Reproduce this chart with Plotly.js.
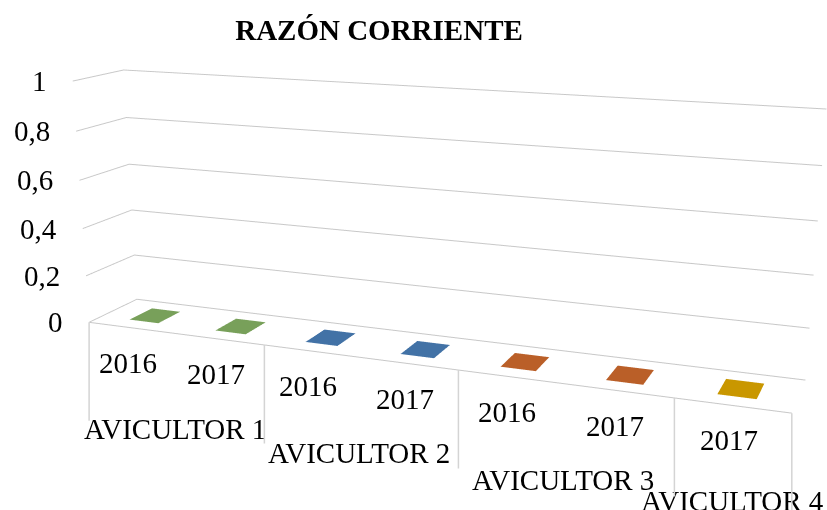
<!DOCTYPE html>
<html><head><meta charset="utf-8">
<script src="https://cdn.plot.ly/plotly-3.0.1.min.js"></script>
<style>
html,body{margin:0;padding:0;background:#fff;overflow:hidden}
#wrap{position:relative;width:827px;height:510px;overflow:hidden;background:#fff}
#chart{position:absolute;left:-317px;top:-306px;width:1485px;height:1188px}
</style></head><body><div id="wrap"><div id="chart"></div></div>
<script>
// ---- data ----
const chartTitle = 'RAZÓN CORRIENTE';
const groups = ['AVICULTOR 1','AVICULTOR 2','AVICULTOR 3','AVICULTOR 4'];
const years = ['2016','2017','2016','2017','2016','2017','2017'];
const groupOf = [0,0,1,1,2,2,3];
const values = [0,0,0,0,0,0,0];
const zTicks = [0,0.2,0.4,0.6,0.8,1];
const zTickText = ['0','0,2','0,4','0,6','0,8','1'];
// ---- style ----
const colors = ['#78A05A','#4272A6','#BA5F28','#C99700'];
const grid = '#c8c8c8';
const sepColor = '#d4d4d4';
const FONT = 'Liberation Serif, Times New Roman, serif';
const HW = 0.17, Y0 = 0.26, Y1 = 0.74;
const ZASP = 0.35;

const traces = [];
groups.forEach((g, gi) => {
  const xs=[], ys=[], zs=[], I=[], J=[], K=[];
  years.forEach((yr, ci) => {
    if (groupOf[ci] !== gi) return;
    const b = xs.length, v = values[ci];
    const corners = [[ci-HW,Y0],[ci+HW,Y0],[ci+HW,Y1],[ci-HW,Y1]];
    [0, v].forEach(z => corners.forEach(c => { xs.push(c[0]); ys.push(c[1]); zs.push(z); }));
    const f = [[0,1,2],[0,2,3],[4,5,6],[4,6,7],[0,1,5],[0,5,4],[1,2,6],[1,6,5],[2,3,7],[2,7,6],[3,0,4],[3,4,7]];
    f.forEach(t => { I.push(b+t[0]); J.push(b+t[1]); K.push(b+t[2]); });
  });
  traces.push({type:'mesh3d', name:g, x:xs, y:ys, z:zs, i:I, j:J, k:K, color:colors[gi],
    flatshading:true, lighting:{ambient:1, diffuse:0, specular:0, roughness:1, fresnel:0},
    hoverinfo:'skip', showscale:false});
});
const xMin = -0.5, xMax = years.length - 0.5;

// separators between groups
const seps = [xMin];
for (let i = 1; i < years.length; i++) if (groupOf[i] !== groupOf[i-1]) seps.push(i - 0.5);
seps.push(xMax);

const ann = [];
zTicks.forEach((v, i) => ann.push({x:xMin, y:0, z:v, text:zTickText[i], showarrow:false,
  xanchor:'right', yanchor:'middle', xshift:-24, font:{family:FONT, size:29, color:'#000'}}));
years.forEach((yr, ci) => ann.push({x:ci, y:0, z:0, text:yr, showarrow:false,
  xanchor:'center', yanchor:'middle', xshift:-3, yshift:-35, font:{family:FONT, size:29, color:'#000'}}));
groups.forEach((g, gi) => {
  const idx = groupOf.map((v,i)=>v===gi?i:-1).filter(i=>i>=0);
  const cx = (idx[0] + idx[idx.length-1]) / 2;
  ann.push({x:cx, y:0, z:0, text:g, showarrow:false, xanchor:'center', yanchor:'middle',
    yshift:-96, font:{family:FONT, size:29, color:'#000'}});
});
seps.forEach(s => ann.push({x:s, y:0, z:0, text:'', showarrow:true, arrowhead:0, ax:0, ay:100,
  arrowcolor:sepColor, arrowwidth:1.5, standoff:0, startstandoff:0}));

const hidden = {showgrid:false, zeroline:false, showline:false, showticklabels:false, ticks:'',
  showbackground:false, showspikes:false, title:{text:''}};

const cz = -0.25 * ZASP;
const layout = {
  width:1485, height:1188, margin:{l:0,r:0,t:0,b:0},
  paper_bgcolor:'#fff', showlegend:false, hovermode:false,
  title:{text:'<b>'+chartTitle+'</b>', font:{family:FONT, size:29, color:'#000'},
    x:0.4687, xanchor:'center', y:0.7172, yanchor:'middle', xref:'paper', yref:'paper'},
  scene:{
    domain:{x:[0,1], y:[0,1]},
    aspectmode:'manual', aspectratio:{x:1, y:0.127, z:ZASP},
    camera:{eye:{x:0.683, y:-1.734, z:0.535 + cz}, center:{x:0,y:0,z:cz}, up:{x:0,y:0,z:1},
      projection:{type:'perspective'}},
    xaxis:Object.assign({range:[xMin, xMax]}, hidden, {showline:true, linecolor:grid, linewidth:2}),
    yaxis:Object.assign({range:[0, 1]}, hidden),
    zaxis:Object.assign({}, hidden, {range:[0, 1], tickvals:zTicks, showgrid:true,
      gridcolor:grid, gridwidth:2}),
    annotations:ann,
    dragmode:false
  }
};
Plotly.newPlot('chart', traces, layout, {displayModeBar:false});
</script></body></html>
